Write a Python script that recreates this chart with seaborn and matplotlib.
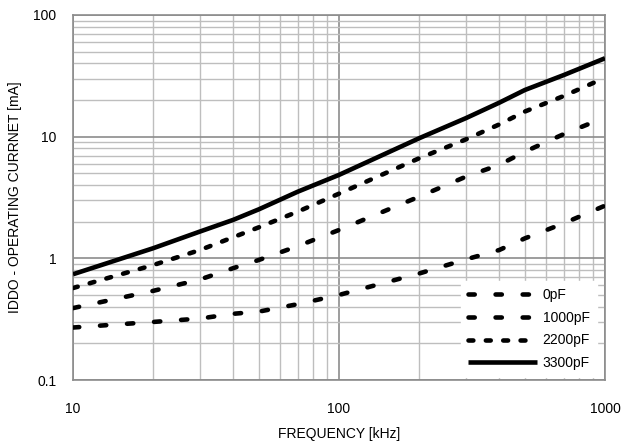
import numpy as np
import pandas as pd
import matplotlib
matplotlib.use("Agg")
import matplotlib.pyplot as plt
import seaborn as sns
from matplotlib.ticker import LogLocator, FixedLocator, FixedFormatter, NullFormatter

# ---- data ----
freq = [10, 20, 30, 40, 50, 70, 100, 200, 300, 400, 500, 700, 1000]
i_0pF = [0.27, 0.30, 0.32, 0.35, 0.365, 0.42, 0.50, 0.75, 0.98, 1.17, 1.46, 1.94, 2.71]
i_1000pF = [0.39, 0.54, 0.67, 0.83, 0.97, 1.26, 1.71, 3.21, 4.69, 5.86, 7.53, 10.5, 14.4]
i_2200pF = [0.57, 0.88, 1.17, 1.49, 1.80, 2.42, 3.40, 6.64, 9.5, 12.6, 16.1, 21.6, 30.5]
i_3300pF = [0.74, 1.21, 1.66, 2.07, 2.53, 3.53, 4.85, 9.7, 14.2, 19.0, 24.2, 32.1, 44.1]
labels = ["0pF", "1000pF", "2200pF", "3300pF"]
x_ticks = [10, 100, 1000]
x_ticklabels = ["10", "100", "1000"]
y_ticks = [0.1, 1, 10, 100]
y_ticklabels = ["0.1", "1", "10", "100"]

sns.set_style("white")
plt.rcParams["font.family"] = ["Liberation Sans", "DejaVu Sans"]
plt.rcParams["lines.scale_dashes"] = False
plt.rcParams["text.color"] = "black"
plt.rcParams["axes.labelcolor"] = "black"

fig = plt.figure(figsize=(6.33, 4.44), dpi=100)
ax = fig.add_axes([73/633, 1-380/444, (605-73)/633, (380-15)/444])

series = [i_0pF, i_1000pF, i_2200pF, i_3300pF]
styles = [(0, (4.5, 15.0)), (0, (4.5, 15.0)), (0, (3.5, 9.0)), "-"]
lw = 3.3
for lab, vals, ls in zip(labels, series, styles):
    df = pd.DataFrame({"f": freq, "i": vals})
    sns.lineplot(data=df, x="f", y="i", ax=ax, color="black", linewidth=lw,
                 linestyle=ls, dash_capstyle="round", solid_capstyle="butt",
                 label=lab, zorder=3)

ax.set_xscale("log")
ax.set_yscale("log")
ax.set_xlim(10, 1000)
ax.set_ylim(0.1, 100)

ax.xaxis.set_major_locator(FixedLocator(x_ticks))
ax.xaxis.set_major_formatter(FixedFormatter(x_ticklabels))
ax.yaxis.set_major_locator(FixedLocator(y_ticks))
ax.yaxis.set_major_formatter(FixedFormatter(y_ticklabels))
ax.xaxis.set_minor_locator(LogLocator(base=10, subs=np.arange(2, 10)))
ax.yaxis.set_minor_locator(LogLocator(base=10, subs=np.arange(2, 10)))
ax.xaxis.set_minor_formatter(NullFormatter())
ax.yaxis.set_minor_formatter(NullFormatter())

ax.grid(which="major", color="#8c8c8c", linewidth=1.2, zorder=1)
ax.grid(which="minor", color="#bebebe", linewidth=1.0, zorder=1)
ax.set_axisbelow(True)
ax.tick_params(which="both", length=0)
ax.tick_params(axis="x", pad=16, labelsize=10, labelcolor="black")
ax.tick_params(axis="y", pad=12, labelsize=10, labelcolor="black")
for s in ax.spines.values():
    s.set_color("#8c8c8c")
    s.set_linewidth(1.2)
    s.set_visible(True)

ax.set_xlabel("FREQUENCY [kHz]", fontsize=10, labelpad=8, color="black")
ax.set_ylabel("IDDO - OPERATING CURRNET [mA]", fontsize=10, labelpad=8, color="black")

handles, labs = ax.get_legend_handles_labels()
leg = ax.legend(handles, labs, loc="lower right",
                bbox_to_anchor=(597/633, 1-377/444), bbox_transform=fig.transFigure,
                frameon=True, fancybox=False, framealpha=1, edgecolor="white",
                facecolor="white", fontsize=10, handlelength=5.0,
                handletextpad=0.4, labelspacing=0.62, borderpad=0.5,
                borderaxespad=0)
for t in leg.get_texts():
    t.set_color("black")
leg.set_zorder(5)

fig.savefig("out.png", dpi=100)
